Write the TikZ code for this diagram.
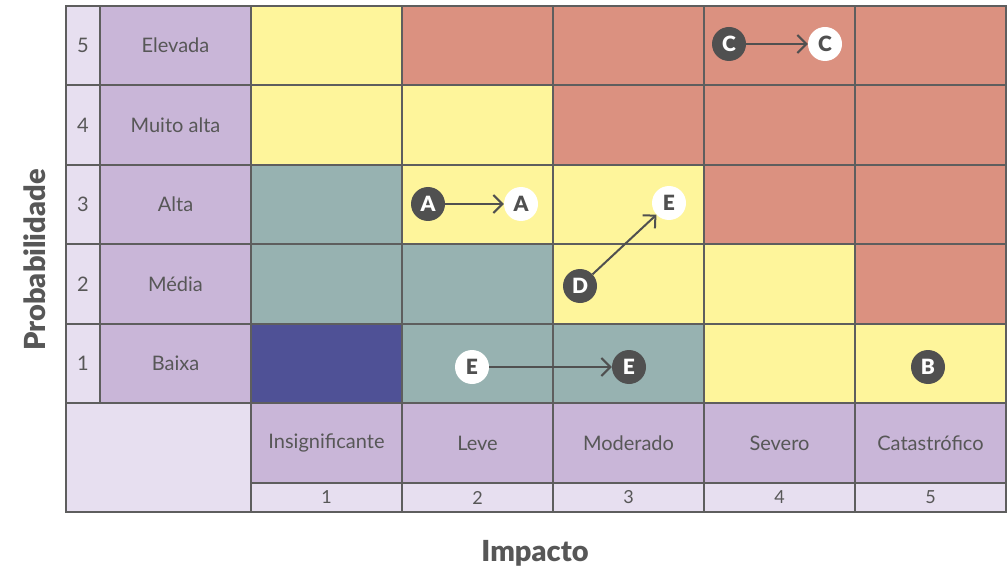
\documentclass[tikz,border=0pt]{standalone}
\usepackage{fontspec}
\setmainfont{Lato}
\newfontfamily\heavy{Lato Black}
\usetikzlibrary{arrows.meta}
\definecolor{ln}{HTML}{5E5E5E}
\definecolor{tx}{HTML}{575757}
\definecolor{yl}{HTML}{FEF59B}
\definecolor{rd}{HTML}{DB9180}
\definecolor{tl}{HTML}{97B2B1}
\definecolor{bl}{HTML}{4F5196}
\definecolor{pu}{HTML}{C9B6D8}
\definecolor{lp}{HTML}{E7DFF0}
\definecolor{dk}{HTML}{505050}
\tikzset{
  cell/.style={draw=ln, line width=2pt, inner sep=0pt, minimum width=151pt, minimum height=79.4pt, text=tx, font=\fontsize{20}{24}\selectfont},
  numcell/.style={cell, fill=lp, minimum width=34pt},
  labcell/.style={cell, fill=pu},
  dkdot/.style={circle, fill=dk, text=white, minimum size=34pt, inner sep=0pt, font=\fontsize{21}{22}\selectfont\heavy},
  wtdot/.style={circle, fill=white, text=dk, minimum size=34pt, inner sep=0pt, font=\fontsize{21}{22}\selectfont\heavy},
  arr/.style={draw=dk, line width=2pt, -{Straight Barb[length=9pt,width=18pt,line width=2pt]}},
  axis/.style={text=tx, font=\fontsize{29}{32}\selectfont\heavy}
}
\begin{document}
\begin{tikzpicture}[x=1pt,y=-1pt]
\useasboundingbox (0,0) rectangle (1008,569);
% row label columns
\node[numcell] (n5) at (83,45.7) {5};
\node[numcell] (n4) at (83,125.1) {4};
\node[numcell] (n3) at (83,204.5) {3};
\node[numcell] (n2) at (83,283.9) {2};
\node[numcell] (n1) at (83,363.3) {1};
\node[labcell] (l5) at (175.5,45.7) {Elevada};
\node[labcell] (l4) at (175.5,125.1) {Muito alta};
\node[labcell] (l3) at (175.5,204.5) {Alta};
\node[labcell] (l2) at (175.5,283.9) {Média};
\node[labcell] (l1) at (175.5,363.3) {Baixa};
% risk cells
\node[cell, fill=yl] (c51) at (326.5,45.7) {};
\node[cell, fill=rd] (c52) at (477.5,45.7) {};
\node[cell, fill=rd] (c53) at (628.5,45.7) {};
\node[cell, fill=rd] (c54) at (779.5,45.7) {};
\node[cell, fill=rd] (c55) at (930.5,45.7) {};
\node[cell, fill=yl] (c41) at (326.5,125.1) {};
\node[cell, fill=yl] (c42) at (477.5,125.1) {};
\node[cell, fill=rd] (c43) at (628.5,125.1) {};
\node[cell, fill=rd] (c44) at (779.5,125.1) {};
\node[cell, fill=rd] (c45) at (930.5,125.1) {};
\node[cell, fill=tl] (c31) at (326.5,204.5) {};
\node[cell, fill=yl] (c32) at (477.5,204.5) {};
\node[cell, fill=yl] (c33) at (628.5,204.5) {};
\node[cell, fill=rd] (c34) at (779.5,204.5) {};
\node[cell, fill=rd] (c35) at (930.5,204.5) {};
\node[cell, fill=tl] (c21) at (326.5,283.9) {};
\node[cell, fill=tl] (c22) at (477.5,283.9) {};
\node[cell, fill=yl] (c23) at (628.5,283.9) {};
\node[cell, fill=yl] (c24) at (779.5,283.9) {};
\node[cell, fill=rd] (c25) at (930.5,283.9) {};
\node[cell, fill=bl] (c11) at (326.5,363.3) {};
\node[cell, fill=tl] (c12) at (477.5,363.3) {};
\node[cell, fill=tl] (c13) at (628.5,363.3) {};
\node[cell, fill=yl] (c14) at (779.5,363.3) {};
\node[cell, fill=yl] (c15) at (930.5,363.3) {};
% bottom
\node[cell, fill=lp, minimum width=185pt, minimum height=109pt] (blank) at (158.5,457.5) {};
\node[labcell, minimum height=80pt] (i1) at (326.5,443) {Insignificante};
\node[labcell, minimum height=80pt] (i2) at (477.5,443) {Leve};
\node[labcell, minimum height=80pt] (i3) at (628.5,443) {Moderado};
\node[labcell, minimum height=80pt] (i4) at (779.5,443) {Severo};
\node[labcell, minimum height=80pt] (i5) at (930.5,443) {Catastrófico};
\node[cell, fill=lp, minimum height=29pt, font=\fontsize{18}{20}\selectfont] (m1) at (326.5,497.5) {1};
\node[cell, fill=lp, minimum height=29pt, font=\fontsize{18}{20}\selectfont] (m2) at (477.5,497.5) {2};
\node[cell, fill=lp, minimum height=29pt, font=\fontsize{18}{20}\selectfont] (m3) at (628.5,497.5) {3};
\node[cell, fill=lp, minimum height=29pt, font=\fontsize{18}{20}\selectfont] (m4) at (779.5,497.5) {4};
\node[cell, fill=lp, minimum height=29pt, font=\fontsize{18}{20}\selectfont] (m5) at (930.5,497.5) {5};
% axis labels
\node[axis, rotate=90] (py) at (35,260) {Probabilidade};
\node[axis] (px) at (535,553) {Impacto};
% markers
\node[dkdot] (a1) at (428,204) {A};
\node[wtdot] (a2) at (521,204) {A};
\node[dkdot] (cc1) at (729,44) {C};
\node[wtdot] (cc2) at (825,44) {C};
\node[dkdot] (d1) at (580,286) {D};
\node[wtdot] (e1) at (669,203) {E};
\node[wtdot] (e2) at (472,367) {E};
\node[dkdot] (e3) at (629,367) {E};
\node[dkdot] (b1) at (928,367) {B};
\draw[arr] (a1) -- (a2);
\draw[arr] (cc1) -- (cc2);
\draw[arr] (d1) -- (e1);
\draw[arr] (e2) -- (e3);
\end{tikzpicture}
\end{document}
